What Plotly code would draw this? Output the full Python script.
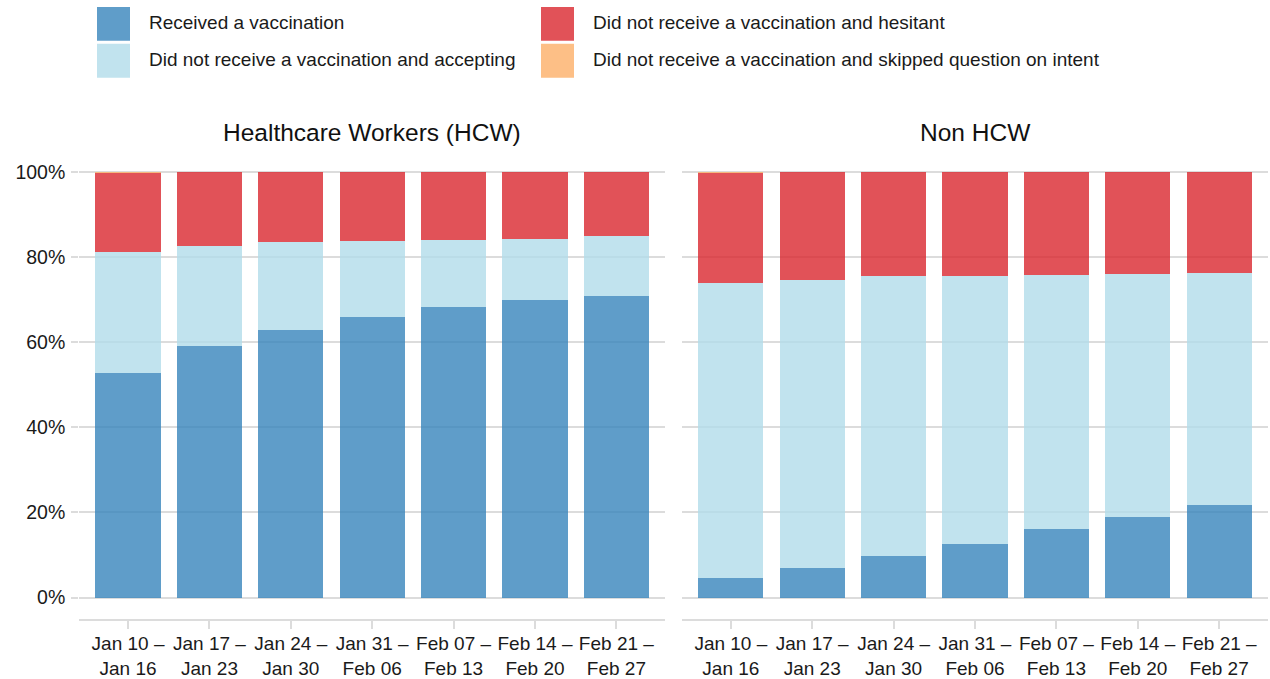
import plotly.graph_objects as go

W, H = 1270, 679

weeks = ["Jan 10 –<br>Jan 16", "Jan 17 –<br>Jan 23", "Jan 24 –<br>Jan 30", "Jan 31 –<br>Feb 06",
         "Feb 07 –<br>Feb 13", "Feb 14 –<br>Feb 20", "Feb 21 –<br>Feb 27"]
panels = ["Healthcare Workers (HCW)", "Non HCW"]
series_names = ["Received a vaccination",
                "Did not receive a vaccination and accepting",
                "Did not receive a vaccination and hesitant",
                "Did not receive a vaccination and skipped question on intent"]

# percentages per week
hcw_received = [52.8, 59.1, 62.8, 65.8, 68.2, 69.9, 70.8]
hcw_accepting = [28.4, 23.5, 20.7, 18.0, 15.8, 14.4, 14.2]
hcw_hesitant = [18.6, 17.4, 16.5, 16.2, 16.0, 15.7, 15.0]
hcw_skipped = [0.2, 0.0, 0.0, 0.0, 0.0, 0.0, 0.0]

non_received = [4.7, 6.9, 9.7, 12.5, 16.0, 19.0, 21.7]
non_accepting = [69.3, 67.8, 65.8, 63.0, 59.8, 57.0, 54.6]
non_hesitant = [25.8, 25.3, 24.5, 24.5, 24.2, 24.0, 23.7]
non_skipped = [0.2, 0.0, 0.0, 0.0, 0.0, 0.0, 0.0]

y_ticks = [0, 20, 40, 60, 80, 100]
y_tick_labels = ["0%", "20%", "40%", "60%", "80%", "100%"]

colors = ["rgba(55,133,187,0.8)", "rgba(177,220,234,0.8)",
          "rgba(217,39,46,0.8)", "rgba(252,175,104,0.8)"]
legend_colors = ["rgb(95,157,201)", "rgb(193,227,238)", "rgb(225,82,88)", "rgb(253,191,134)"]

FONT = "Liberation Sans, Arial, sans-serif"
GRID = "#dcdcdc"

fig = go.Figure()
xs = list(range(len(weeks)))
panel_data = [
    [hcw_received, hcw_accepting, hcw_hesitant, hcw_skipped],
    [non_received, non_accepting, non_hesitant, non_skipped],
]
for p, data in enumerate(panel_data):
    for s, vals in enumerate(data):
        fig.add_trace(go.Bar(
            x=xs, y=vals, name=series_names[s],
            marker=dict(color=colors[s], line=dict(width=0)),
            xaxis="x" if p == 0 else "x2", yaxis="y" if p == 0 else "y2",
            showlegend=False,
        ))

def px_x(v):
    return v / W

def px_y(v):
    return 1 - v / H

# plot areas (pixels)
left_dom = [px_x(79.2), px_x(665.2)]
right_dom = [px_x(682), px_x(1268)]
y_dom = [px_y(622), px_y(151.3)]

xaxis_common = dict(
    range=[-0.6, 6.6], tickmode="array", tickvals=xs, ticktext=weeks,
    showgrid=False, zeroline=False, showline=True, linecolor=GRID, linewidth=2,
    ticks="outside", ticklen=8, tickwidth=2, tickcolor=GRID, ticklabelstandoff=-2,
    tickfont=dict(family=FONT, size=19, color="#1a1a1a"), fixedrange=True,
)
yaxis_common = dict(
    range=[-5.1, 105], tickmode="array", tickvals=y_ticks, ticktext=y_tick_labels,
    showgrid=True, gridcolor=GRID, gridwidth=2, zeroline=False, showline=False,
    tickfont=dict(family=FONT, size=19.5, color="#1a1a1a"), fixedrange=True,
)

fig.update_layout(
    width=W, height=H,
    margin=dict(l=0, r=0, t=0, b=0),
    paper_bgcolor="white", plot_bgcolor="white",
    barmode="stack", bargap=0.2,
    xaxis=dict(domain=left_dom, anchor="y", **xaxis_common),
    xaxis2=dict(domain=right_dom, anchor="y2", **xaxis_common),
    yaxis=dict(domain=y_dom, anchor="x", ticks="outside", ticklen=7, tickwidth=2,
               tickcolor=GRID, ticklabelstandoff=2, **yaxis_common),
    yaxis2=dict(domain=y_dom, anchor="x2", showticklabels=False, ticks="",
                **yaxis_common),
    font=dict(family=FONT),
)

annotations = []
shapes = []
# panel titles
for dom, title in zip([left_dom, right_dom], panels):
    annotations.append(dict(
        x=(dom[0] + dom[1]) / 2, y=px_y(133), xref="paper", yref="paper",
        text=title, showarrow=False, xanchor="center", yanchor="middle",
        font=dict(family=FONT, size=24.5, color="#111111"),
    ))

# legend (2 columns x 2 rows)
legend_pos = [(97, 7), (97, 44), (541, 7), (541, 44)]
for (lx, ly), name, col in zip(legend_pos, series_names, legend_colors):
    shapes.append(dict(
        type="rect", xref="paper", yref="paper",
        x0=px_x(lx), x1=px_x(lx + 33), y0=px_y(ly + 34), y1=px_y(ly),
        fillcolor=col, line=dict(width=0),
    ))
    annotations.append(dict(
        x=px_x(lx + 50), y=px_y(ly + 16), xref="paper", yref="paper",
        text=name, showarrow=False, xanchor="left", yanchor="middle",
        font=dict(family=FONT, size=19, color="#1a1a1a"),
    ))

fig.update_layout(annotations=annotations, shapes=shapes)

fig.write_html("out.html", config={"displayModeBar": False},
               post_script="document.body.style.margin='0px';document.body.style.padding='0px';")
